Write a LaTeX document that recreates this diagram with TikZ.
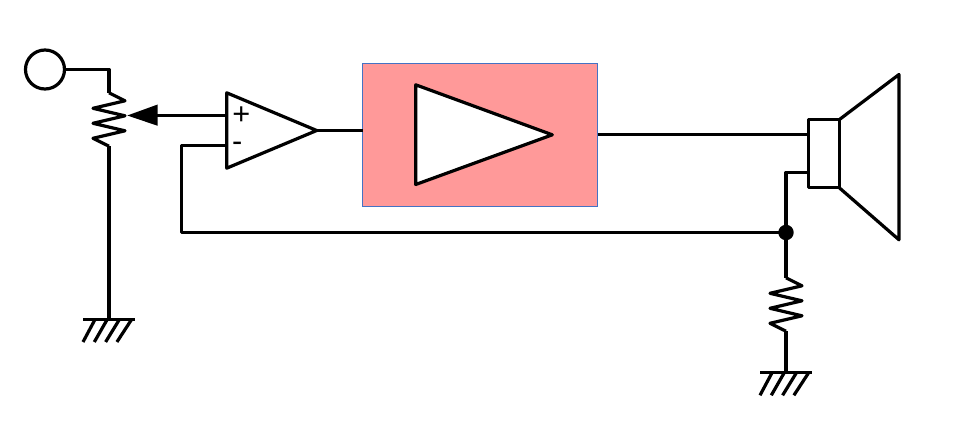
\documentclass[tikz,border=0pt]{standalone}
\usepackage{fontspec}
\setmainfont{Liberation Sans}
\usetikzlibrary{arrows.meta, positioning}
\definecolor{ampred}{HTML}{FF9999}
\definecolor{ampblue}{HTML}{4472C4}
\tikzset{
  wire/.style={line width=2.4pt, line join=round},
  resistor/.pic={\draw[wire] (0,0) -- (16,8) -- (-16,15.5) -- (16,23) -- (-16,30.5) -- (16,38) -- (-16,45.5) -- (0,53.4);},
  groundsym/.pic={
    \draw[wire] (-26,0) -- (26,0);
    \foreach \i in {0,1,2,3} {\draw[wire] (-14+12.2*\i,0) -- (-26+11.3*\i,22.5);}
  }
}
\begin{document}
\begin{tikzpicture}[x=0.75pt, y=-0.75pt, every node/.style={outer sep=0pt, inner sep=0pt}]
  \useasboundingbox (0,-0.5) rectangle (958,427.5);
  % blocks
  \node (input) [draw, wire, circle, minimum size=29.25pt] at (45,69) {};
  \node (power) [draw=ampblue, fill=ampred, line width=0.6pt, rectangle, minimum width=176.25pt, minimum height=107.25pt] at (480,134.2) {};
  \node (coil) [draw, wire, rectangle, minimum width=23.25pt, minimum height=51pt] at (823.7,153.2) {};
  \node (junction) [circle, fill=black, minimum size=11.6pt] at (786,232) {};

  % triangles
  \coordinate (preUp) at (226.7,92.3);
  \coordinate (preLow) at (226.7,167.7);
  \coordinate (preOut) at (316.7,130);
  \coordinate (preIn) at (226.7,115);
  \coordinate (preFb) at (226.7,145);
  \draw[wire] (preUp) -- (preOut) -- (preLow) -- cycle;
  \coordinate (powUp) at (415.7,84.3);
  \coordinate (powLow) at (415.7,184);
  \coordinate (powOut) at (552.3,134.3);
  \draw[wire, fill=white] (powUp) -- (powOut) -- (powLow) -- cycle;
  \node (plus) at (241.3,114.8) {\fontsize{23pt}{23pt}\selectfont +};
  \node (minus) at (237.3,146.8) {\fontsize{23pt}{23pt}\selectfont -};

  % resistors and grounds
  \coordinate (potTop) at (109,92.3);
  \coordinate (potLow) at (109,145.7);
  \coordinate (potWiper) at (127.3,115);
  \coordinate (potGnd) at (109,319);
  \coordinate (loadTop) at (786,277.3);
  \coordinate (loadLow) at (786,330.7);
  \coordinate (loadGnd) at (786,372.3);
  \path (potTop) pic {resistor};
  \path (loadTop) pic {resistor};
  \path (potGnd) pic {groundsym};
  \path (loadGnd) pic {groundsym};

  % cone
  \coordinate (coneUp) at (899,74);
  \coordinate (coneLow) at (899,239.3);
  \draw[wire] (coil.north east) -- (coneUp) -- (coneLow) -- (coil.south east);

  % wires
  \draw[wire] (input.east) -| (potTop);
  \draw[wire] (potLow) -- (potGnd);
  \draw[wire] (preIn) -- (157,115);
  \fill (potWiper) -- (157.7,104) -- (157.7,125.3) -- cycle;
  \draw[wire] (preFb) -| (181.5,232) -- (junction.center);
  \draw[wire] (preOut) -- (power.west |- preOut);
  \draw[wire] (power.east |- 0,134) -- (coil.west |- 0,134);
  \draw[wire] (coil.west |- 0,172) -| (junction.center);
  \draw[wire] (junction.center) -- (loadTop);
  \draw[wire] (loadLow) -- (loadGnd);
\end{tikzpicture}
\end{document}
